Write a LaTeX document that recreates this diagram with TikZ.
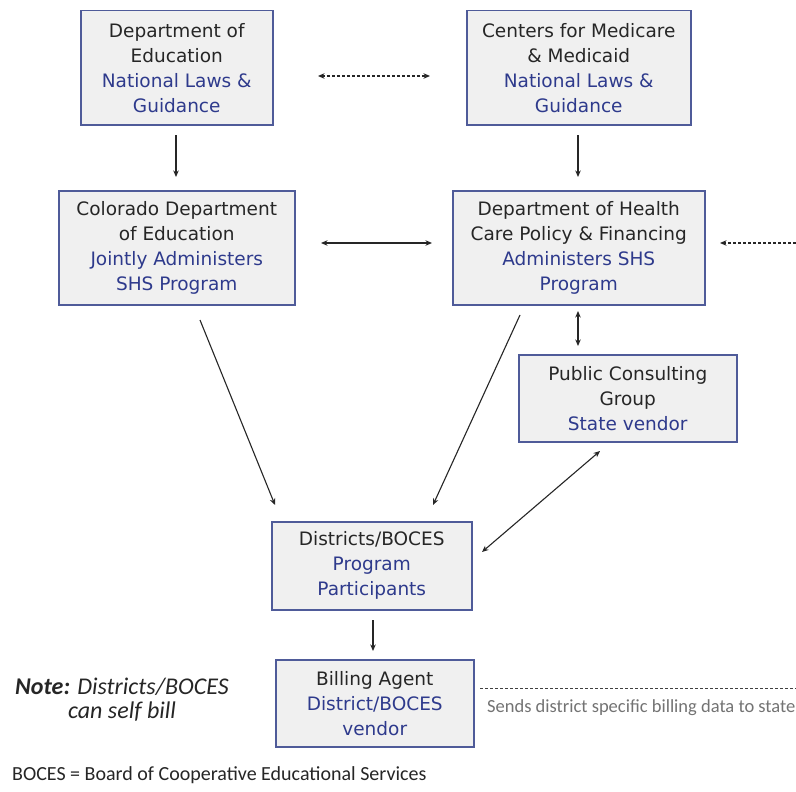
\documentclass[tikz,border=0pt]{standalone}
\usepackage{fontspec}
\setmainfont{DejaVu Sans}
\newfontfamily\calib{Carlito}
\usetikzlibrary{arrows.meta}
\definecolor{boxfill}{HTML}{F0F0F0}
\definecolor{boxline}{HTML}{4F5B99}
\definecolor{bluetxt}{HTML}{2E3A8C}
\definecolor{txtdark}{HTML}{262626}
\tikzset{
  x=1pt,y=-1pt,
  orgbox/.style={draw=boxline,line width=1.5pt,fill=boxfill,inner sep=0pt,anchor=north west},
  arr/.style={-{Stealth[length=6.5pt,width=5.5pt]},line width=1.1pt,draw=black!85},
  darr/.style={{Stealth[length=6.5pt,width=5.5pt]}-{Stealth[length=6.5pt,width=5.5pt]},line width=1.1pt,draw=black!85},
  boxtext/.style={align=center,font=\fontsize{18.5}{25}\selectfont,text=txtdark},
}
\newcommand{\bl}[1]{\textcolor{bluetxt}{#1}}
\begin{document}
\begin{tikzpicture}
\useasboundingbox[fill=white] (0,0) rectangle (796,792);
% boxes
\node[orgbox,minimum width=192,minimum height=114] (doe) at (80,10) {};
\node[orgbox,minimum width=224,minimum height=114] (cms) at (466,10) {};
\node[orgbox,minimum width=236,minimum height=114] (cde) at (58,190) {};
\node[orgbox,minimum width=252,minimum height=114] (hcpf) at (452,190) {};
\node[orgbox,minimum width=218,minimum height=87] (pcg) at (518,354) {};
\node[orgbox,minimum width=200,minimum height=88] (dist) at (271,521) {};
\node[orgbox,minimum width=198,minimum height=87] (bill) at (275,659) {};
% texts
\node[boxtext] (doet) at (doe.center) {Department of\\Education\\\bl{National Laws \&}\\\bl{Guidance}};
\node[boxtext] (cmst) at (cms.center) {Centers for Medicare\\\& Medicaid\\\bl{National Laws \&}\\\bl{Guidance}};
\node[boxtext] (cdet) at (cde.center) {Colorado Department\\of Education\\\bl{Jointly Administers}\\\bl{SHS Program}};
\node[boxtext] (hcpft) at (hcpf.center) {Department of Health\\Care Policy \& Financing\\\bl{Administers SHS}\\\bl{Program}};
\node[boxtext] (pcgt) at (pcg.center) {Public Consulting\\Group\\\bl{State vendor}};
\node[boxtext] (distt) at (dist.center) {Districts/BOCES\\\bl{Program}\\\bl{Participants}};
\node[boxtext] (billt) at (bill.center) {Billing Agent\\\bl{District/BOCES}\\\bl{vendor}};
% coordinates
\coordinate (dd1) at (318,76);
\coordinate (dd2) at (430,76);
\coordinate (a1) at (176,135);
\coordinate (a2) at (176,177);
\coordinate (b1) at (578,135);
\coordinate (b2) at (578,177);
\coordinate (c1) at (321,243);
\coordinate (c2) at (432,243);
\coordinate (e1) at (796,243);
\coordinate (e2) at (720,243);
\coordinate (f1) at (578,311);
\coordinate (f2) at (578,346);
\coordinate (g1) at (200,320);
\coordinate (g2) at (275,505);
\coordinate (h1) at (520,315);
\coordinate (h2) at (433,505);
\coordinate (i1) at (600,451);
\coordinate (i2) at (482,552);
\coordinate (j1) at (373,620);
\coordinate (j2) at (373,651);
\coordinate (k1) at (480,688);
\coordinate (k2) at (796,688);
% connectors
\draw[darr,dash pattern=on 3pt off 2pt] (dd1) -- (dd2);
\draw[arr] (a1) -- (a2);
\draw[arr] (b1) -- (b2);
\draw[darr] (c1) -- (c2);
\draw[arr,dash pattern=on 3pt off 2pt] (e1) -- (e2);
\draw[darr] (f1) -- (f2);
\draw[arr] (g1) -- (g2);
\draw[arr] (h1) -- (h2);
\draw[darr] (i1) -- (i2);
\draw[arr] (j1) -- (j2);
\draw[line width=1pt,draw=black!75,dash pattern=on 3pt off 2pt] (k1) -- (k2);
% free text
\node[anchor=west,text=black!55,font=\calib\fontsize{18.5}{20}\selectfont,inner sep=0pt] (sends) at (487,708) {Sends district specific billing data to state};
\node[align=center,font=\calib\itshape\fontsize{24}{24}\selectfont,inner sep=0pt,text=txtdark] (note) at (122,700) {\textbf{Note:} Districts/BOCES\\can self bill};
\node[anchor=west,font=\calib\fontsize{20}{22}\selectfont,inner sep=0pt,text=txtdark] (boces) at (12,775) {BOCES = Board of Cooperative Educational Services};
\end{tikzpicture}
\end{document}
